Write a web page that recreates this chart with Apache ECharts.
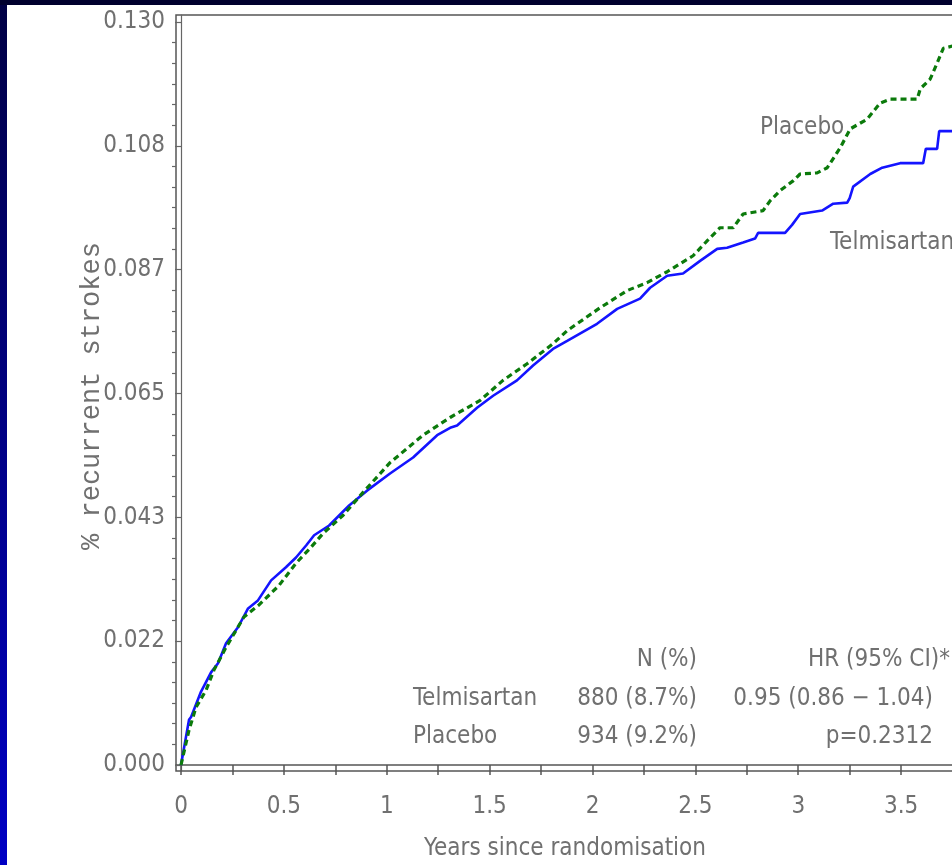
<!DOCTYPE html>
<html>
<head>
<meta charset="utf-8">
<script src="https://cdn.jsdelivr.net/npm/echarts@6/dist/echarts.min.js"></script>
<style>
html,body{margin:0;padding:0;background:#fff;}
#chart{width:952px;height:865px;}
</style>
</head>
<body>
<div id="chart"></div>
<script>
// ---- data (years, cumulative proportion with recurrent stroke) ----
const telmisartan = [
  [0,0],[0.039,0.0079],[0.049,0.0084],[0.097,0.0128],[0.146,0.0162],[0.180,0.0178],
  [0.219,0.0213],[0.277,0.0241],[0.326,0.0274],[0.374,0.0288],[0.438,0.0323],
  [0.510,0.0346],[0.559,0.0363],[0.608,0.0384],[0.647,0.0402],[0.720,0.0419],
  [0.817,0.0454],[0.904,0.0480],[1.016,0.0510],[1.128,0.0538],[1.245,0.0577],
  [1.308,0.0590],[1.342,0.0594],[1.439,0.0625],[1.517,0.0646],[1.633,0.0673],
  [1.711,0.0699],[1.808,0.0728],[1.877,0.0742],[2.022,0.0772],[2.120,0.0798],
  [2.231,0.0816],[2.280,0.0835],[2.363,0.0856],[2.440,0.0860],[2.523,0.0882],
  [2.606,0.0903],[2.654,0.0905],[2.732,0.0914],[2.790,0.0921],[2.805,0.0931],
  [2.936,0.0931],[2.970,0.0945],[3.009,0.0964],[3.116,0.0970],[3.170,0.0982],
  [3.238,0.0984],[3.250,0.0992],[3.267,0.1012],[3.350,0.1034],[3.408,0.1045],
  [3.495,0.1053],[3.607,0.1053],[3.620,0.1078],[3.675,0.1078],[3.685,0.1109],
  [3.800,0.1109]
];
const placebo = [
  [0,0],[0.039,0.0061],[0.073,0.0101],[0.122,0.0131],[0.160,0.0166],[0.219,0.0206],
  [0.306,0.0259],[0.379,0.0280],[0.476,0.0314],[0.559,0.0353],[0.632,0.0381],
  [0.690,0.0405],[0.788,0.0437],[0.851,0.0463],[0.885,0.0477],[1.016,0.0529],
  [1.176,0.0577],[1.308,0.0608],[1.342,0.0615],[1.454,0.0638],[1.565,0.0673],
  [1.682,0.0702],[1.808,0.0737],[1.877,0.0760],[2.037,0.0800],[2.168,0.0830],
  [2.265,0.0844],[2.363,0.0863],[2.489,0.0891],[2.557,0.0917],[2.620,0.0940],
  [2.684,0.0940],[2.732,0.0964],[2.829,0.0970],[2.863,0.0987],[2.912,0.1005],
  [2.975,0.1022],[3.009,0.1034],[3.092,0.1036],[3.141,0.1045],[3.204,0.1080],
  [3.253,0.1113],[3.335,0.1130],[3.398,0.1158],[3.447,0.1165],[3.578,0.1165],
  [3.593,0.1183],[3.641,0.1200],[3.675,0.1228],[3.705,0.1254],[3.800,0.1262]
];
const seriesNames = ['Telmisartan','Placebo'];
const xTickValues = [0,0.25,0.5,0.75,1,1.25,1.5,1.75,2,2.25,2.5,2.75,3,3.25,3.5,3.75,4];
const xLabelValues = [0,0.5,1,1.5,2,2.5,3,3.5,4];
const xTickLabels = ['0','0.5','1','1.5','2','2.5','3','3.5','4'];
const yTickValues = [0,0.13/6,0.26/6,0.39/6,0.52/6,0.65/6,0.13];
const yTickLabels = ['0.000','0.022','0.043','0.065','0.087','0.108','0.130'];
const statsHeader = ['N (%)','HR (95% CI)*'];
const statsRows = [
  ['Telmisartan','880 (8.7%)','0.95 (0.86 \u2212 1.04)'],
  ['Placebo','934 (9.2%)','p=0.2312']
];

// minor y ticks: 6 subdivisions between major ticks
const yMinorTicks = [];
for (let i = 0; i < yTickValues.length - 1; i++) {
  const a = yTickValues[i], b = yTickValues[i+1];
  for (let k = 1; k < 6; k++) yMinorTicks.push(a + (b - a) * k / 6);
}

const FONT = "'DejaVu Sans Condensed','Liberation Sans Narrow',sans-serif";
const FS = 24;
const TXT = '#707070';

function nearestLabel(vals, labels, v) {
  let best = 0;
  for (let i = 1; i < vals.length; i++) if (Math.abs(vals[i]-v) < Math.abs(vals[best]-v)) best = i;
  return labels[best];
}

const chart = echarts.init(document.getElementById('chart'));
const textStyle = {fontFamily: FONT, fontSize: FS, fill: TXT};

chart.setOption({
  animation: false,
  backgroundColor: '#ffffff',
  grid: {left: 176, top: 15, width: 828, height: 756, show: true,
         outerBoundsMode: 'none', containLabel: false,
         borderColor: '#555', borderWidth: 1.5, backgroundColor: 'transparent'},
  xAxis: {
    type: 'value', min: -0.0243, max: 4.0,
    axisLine: {show: true, lineStyle: {color: '#555', width: 1.5}},
    splitLine: {show: false},
    axisTick: {show: true, length: 10, lineStyle: {color: '#555', width: 1.5},
               customValues: xTickValues},
    axisLabel: {customValues: xLabelValues, margin: 24, color: TXT,
                fontFamily: FONT, fontSize: FS,
                formatter: v => nearestLabel(xLabelValues, xTickLabels, v)}
  },
  yAxis: [{
    type: 'value', min: -0.00105, max: 0.13122,
    axisLine: {show: true, lineStyle: {color: '#666', width: 1.2}},
    splitLine: {show: false},
    axisTick: {show: true, length: 6, lineStyle: {color: '#666', width: 1.2},
               customValues: yTickValues},
    axisLabel: {customValues: yTickValues, margin: 11, color: TXT,
                fontFamily: FONT, fontSize: FS,
                formatter: v => nearestLabel(yTickValues, yTickLabels, v)}
  },{
    type: 'value', min: -0.00105, max: 0.13122, position: 'left',
    axisLine: {show: false}, splitLine: {show: false},
    axisTick: {show: true, length: 4, lineStyle: {color: '#666', width: 1.2},
               customValues: yMinorTicks},
    axisLabel: {show: false}
  }],
  series: [{
    name: seriesNames[0], type: 'line', data: telmisartan, showSymbol: false,
    lineStyle: {color: '#1414ff', width: 2.6}, z: 3
  },{
    name: seriesNames[1], type: 'line', data: placebo, showSymbol: false,
    lineStyle: {color: '#0b7a0b', width: 3.2, type: [6, 4]}, z: 4
  }],
  graphic: [
    {type: 'rect', shape: {x: 0, y: 0, width: 7, height: 865}, z: 100,
     style: {fill: new echarts.graphic.LinearGradient(0,0,0,1,[{offset:0,color:'#000044'},{offset:1,color:'#0000c4'}])}},
    {type: 'rect', shape: {x: 0, y: 0, width: 952, height: 5}, z: 100, style: {fill: '#00002e'}},
    {type: 'text', x: 92, y: 396, rotation: Math.PI/2, z: 50,
     style: {text: '% recurrent strokes', font: "27px 'Liberation Mono','DejaVu Sans Mono',monospace",
             fill: TXT, align: 'center', verticalAlign: 'middle'}},
    {type: 'text', x: 565, y: 849, z: 50,
     style: Object.assign({text: 'Years since randomisation', align: 'center', verticalAlign: 'middle'}, textStyle)},
    {type: 'text', x: 760, y: 128, z: 50,
     style: Object.assign({text: seriesNames[1], align: 'left', verticalAlign: 'middle'}, textStyle)},
    {type: 'text', x: 830, y: 243, z: 50,
     style: Object.assign({text: seriesNames[0], align: 'left', verticalAlign: 'middle'}, textStyle)},
    {type: 'text', x: 697, y: 660, z: 50,
     style: Object.assign({text: statsHeader[0], align: 'right', verticalAlign: 'middle'}, textStyle)},
    {type: 'text', x: 950, y: 660, z: 50,
     style: Object.assign({text: statsHeader[1], align: 'right', verticalAlign: 'middle'}, textStyle)},
    {type: 'text', x: 413, y: 699, z: 50,
     style: Object.assign({text: statsRows[0][0], align: 'left', verticalAlign: 'middle'}, textStyle)},
    {type: 'text', x: 697, y: 699, z: 50,
     style: Object.assign({text: statsRows[0][1], align: 'right', verticalAlign: 'middle'}, textStyle)},
    {type: 'text', x: 933, y: 699, z: 50,
     style: Object.assign({text: statsRows[0][2], align: 'right', verticalAlign: 'middle'}, textStyle)},
    {type: 'text', x: 413, y: 737, z: 50,
     style: Object.assign({text: statsRows[1][0], align: 'left', verticalAlign: 'middle'}, textStyle)},
    {type: 'text', x: 697, y: 737, z: 50,
     style: Object.assign({text: statsRows[1][1], align: 'right', verticalAlign: 'middle'}, textStyle)},
    {type: 'text', x: 933, y: 737, z: 50,
     style: Object.assign({text: statsRows[1][2], align: 'right', verticalAlign: 'middle'}, textStyle)}
  ]
});
</script>
</body>
</html>
